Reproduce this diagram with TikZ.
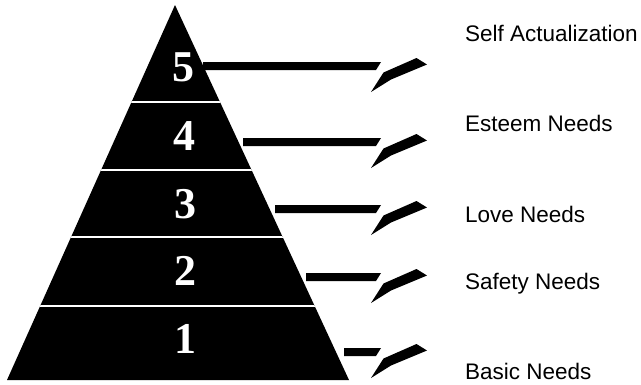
\documentclass[tikz,border=0pt]{standalone}
\usepackage{fontspec}
\setmainfont{Liberation Serif}
\newfontfamily\labelfont{Liberation Sans}
\begin{document}
\begin{tikzpicture}[x=1pt,y=-1pt,
  barshape/.style={fill=black,draw=none},
  nibshape/.style={fill=black,draw=none},
  divider/.style={white,line width=1.7pt},
  digit/.style={text=white,font=\fontsize{44}{44}\selectfont\bfseries,inner sep=0pt,anchor=base},
  need/.style={font=\labelfont\fontsize{22.5}{24}\selectfont,inner sep=0pt,anchor=base west}]
\useasboundingbox (0,0) rectangle (641,384);
\coordinate (apex) at (175,5);
\coordinate (bl) at (7,380);
\coordinate (br) at (349,380);
\fill[black] (apex) -- (bl) -- (br) -- cycle;
\begin{scope}
  \clip (apex) -- (bl) -- (br) -- cycle;
  \foreach \yy in {101.7,170,236.7,305.7}
    \draw[divider] (0,\yy) -- (400,\yy);
\end{scope}
\node[digit] (d5) at (183,81.7) {5};
\node[digit] (d4) at (184,150) {4};
\node[digit] (d3) at (185,218) {3};
\node[digit] (d2) at (185,285) {2};
\node[digit] (d1) at (185.5,353) {1};
\foreach \xs/\yc in {203/66,243/142,275/209,306/277,344/352} {
  \fill[barshape] (\xs,\yc-4) -- (381,\yc-4) -- (376,\yc+4) -- (\xs,\yc+4) -- cycle;
  \fill[nibshape] (371,\yc+26) -- (383.5,\yc+6.5) -- (416.5,\yc-8) -- (427,\yc-1.5) -- (391,\yc+13.5) -- cycle;
}
\node[need] (l5) at (465,41.5) {Self Actualization};
\node[need] (l4) at (465,131) {Esteem Needs};
\node[need] (l3) at (465,222.7) {Love Needs};
\node[need] (l2) at (465,289.3) {Safety Needs};
\node[need] (l1) at (465,379.3) {Basic Needs};
\end{tikzpicture}
\end{document}
